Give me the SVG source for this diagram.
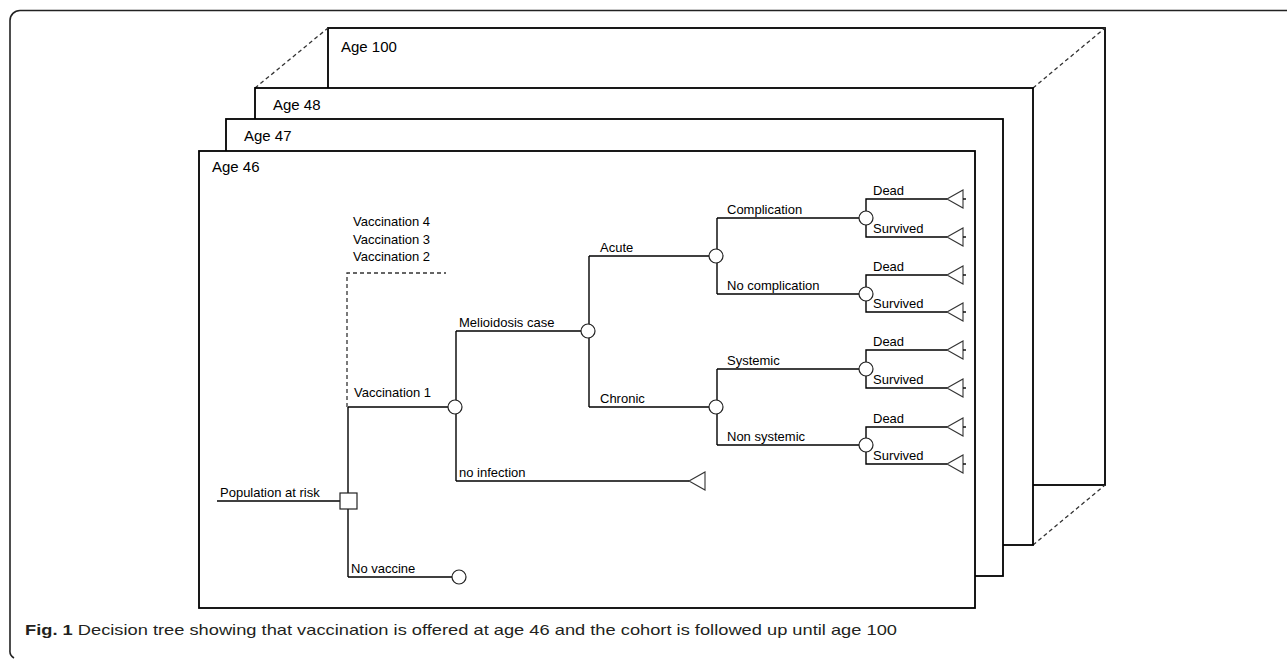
<svg xmlns="http://www.w3.org/2000/svg" width="1287" height="659" viewBox="0 0 1287 659">
<style>
.frame{fill:#fff;stroke:#000;stroke-width:1.8}
.dash{fill:none;stroke:#333;stroke-width:1.3;stroke-dasharray:4 3}
.ln{fill:none;stroke:#000;stroke-width:1.4}
.chance{fill:#fff;stroke:#222;stroke-width:1.2}
.term{fill:#fff;stroke:#333;stroke-width:1.1}
.age{font-family:"Liberation Sans",Arial,sans-serif;font-size:15px;fill:#000}
.lbl{font-family:"Liberation Sans",Arial,sans-serif;font-size:13px;fill:#000}
.cap{font-family:"Liberation Sans",Arial,sans-serif;font-size:15px;fill:#231f20}
</style>
<rect width="1287" height="659" fill="#fff"/>
<path d="M1287,10.5 H20 A10,10 0 0 0 10,20.5 V650 A8,8 0 0 0 14,658" fill="none" stroke="#222" stroke-width="1.6"/>

<g id="age100"><rect class="frame" x="328" y="28" width="777" height="457"/><text class="age" x="341" y="52">Age 100</text></g>
<g id="depth-lines">
<line class="dash" x1="255" y1="88" x2="328" y2="28"/>
<line class="dash" x1="1033" y1="88" x2="1105" y2="28"/>
<line class="dash" x1="1033" y1="545" x2="1105" y2="485"/>
</g>
<g id="age48"><rect class="frame" x="255" y="88" width="778" height="457"/><text class="age" x="273" y="110">Age 48</text></g>
<g id="age47"><rect class="frame" x="226" y="119" width="777" height="457"/><text class="age" x="244" y="141">Age 47</text></g>
<g id="age46"><rect class="frame" x="199" y="151" width="776" height="457"/><text class="age" x="212" y="172">Age 46</text></g>

<g id="connectors">
<line class="ln" x1="217" y1="501" x2="340" y2="501"/>
<line class="ln" x1="348" y1="407" x2="348" y2="493"/>
<line class="ln" x1="348" y1="509" x2="348" y2="577"/>
<line class="ln" x1="348" y1="407" x2="448" y2="407"/>
<line class="ln" x1="348" y1="577" x2="452" y2="577"/>
<polyline class="dash" points="347,407 347,273 446,273"/>
<line class="ln" x1="456" y1="331" x2="456" y2="481"/>
<line class="ln" x1="456" y1="331" x2="581" y2="331"/>
<line class="ln" x1="456" y1="481" x2="689" y2="481"/>
<line class="ln" x1="589" y1="256" x2="589" y2="407"/>
<line class="ln" x1="589" y1="256" x2="709" y2="256"/>
<line class="ln" x1="589" y1="407" x2="709" y2="407"/>
<line class="ln" x1="717" y1="218" x2="717" y2="294"/>
<line class="ln" x1="717" y1="218" x2="859" y2="218"/>
<line class="ln" x1="717" y1="294" x2="859" y2="294"/>
<line class="ln" x1="717" y1="369" x2="717" y2="445"/>
<line class="ln" x1="717" y1="369" x2="859" y2="369"/>
<line class="ln" x1="717" y1="445" x2="859" y2="445"/>
<polyline class="ln" points="947,199 866,199 866,237 947,237"/>
<polyline class="ln" points="947,275 866,275 866,312 947,312"/>
<polyline class="ln" points="947,350 866,350 866,388 947,388"/>
<polyline class="ln" points="947,427 866,427 866,464 947,464"/>
</g>

<g id="n-population"><rect x="340" y="493" width="17" height="16" fill="#fff" stroke="#222" stroke-width="1.2"/><text class="lbl" x="220" y="497">Population at risk</text></g>
<g id="n-vacc-others"><text class="lbl" x="353" y="226">Vaccination 4</text><text class="lbl" x="353" y="244">Vaccination 3</text><text class="lbl" x="353" y="261">Vaccination 2</text></g>
<g id="n-vacc1"><circle class="chance" cx="455" cy="407" r="7"/><text class="lbl" x="354" y="397">Vaccination 1</text></g>
<g id="n-novaccine"><circle class="chance" cx="459" cy="577" r="7"/><text class="lbl" x="351" y="573">No vaccine</text></g>
<g id="n-melioid"><circle class="chance" cx="588" cy="331" r="7"/><text class="lbl" x="459" y="327">Melioidosis case</text></g>
<g id="n-noinf"><polygon class="term" points="689,481 705,472 705,490"/><text class="lbl" x="459" y="477">no infection</text></g>
<g id="n-acute"><circle class="chance" cx="716" cy="256" r="7"/><text class="lbl" x="600" y="252">Acute</text></g>
<g id="n-chronic"><circle class="chance" cx="716" cy="407" r="7"/><text class="lbl" x="600" y="403">Chronic</text></g>
<g id="n-compl"><circle class="chance" cx="866" cy="218" r="7"/><text class="lbl" x="727" y="214">Complication</text></g>
<g id="n-nocompl"><circle class="chance" cx="866" cy="294" r="7"/><text class="lbl" x="727" y="290">No complication</text></g>
<g id="n-systemic"><circle class="chance" cx="866" cy="369" r="7"/><text class="lbl" x="727" y="365">Systemic</text></g>
<g id="n-nonsystemic"><circle class="chance" cx="866" cy="445" r="7"/><text class="lbl" x="727" y="441">Non systemic</text></g>

<g id="outcomes">
<g id="o1"><polygon class="term" points="947,199 963,190 963,208"/><line class="ln" x1="963" y1="199" x2="966" y2="199"/><text class="lbl" x="873" y="195">Dead</text></g>
<g id="o2"><polygon class="term" points="947,237 963,228 963,246"/><line class="ln" x1="963" y1="237" x2="966" y2="237"/><text class="lbl" x="873" y="233">Survived</text></g>
<g id="o3"><polygon class="term" points="947,275 963,266 963,284"/><line class="ln" x1="963" y1="275" x2="966" y2="275"/><text class="lbl" x="873" y="271">Dead</text></g>
<g id="o4"><polygon class="term" points="947,312 963,303 963,321"/><line class="ln" x1="963" y1="312" x2="966" y2="312"/><text class="lbl" x="873" y="308">Survived</text></g>
<g id="o5"><polygon class="term" points="947,350 963,341 963,359"/><line class="ln" x1="963" y1="350" x2="966" y2="350"/><text class="lbl" x="873" y="346">Dead</text></g>
<g id="o6"><polygon class="term" points="947,388 963,379 963,397"/><line class="ln" x1="963" y1="388" x2="966" y2="388"/><text class="lbl" x="873" y="384">Survived</text></g>
<g id="o7"><polygon class="term" points="947,427 963,418 963,436"/><line class="ln" x1="963" y1="427" x2="966" y2="427"/><text class="lbl" x="873" y="423">Dead</text></g>
<g id="o8"><polygon class="term" points="947,464 963,455 963,473"/><line class="ln" x1="963" y1="464" x2="966" y2="464"/><text class="lbl" x="873" y="460">Survived</text></g>
</g>

<g id="caption"><text class="cap" x="25" y="635" textLength="872" lengthAdjust="spacingAndGlyphs"><tspan font-weight="bold">Fig. 1</tspan> Decision tree showing that vaccination is offered at age 46 and the cohort is followed up until age 100</text></g>
</svg>
